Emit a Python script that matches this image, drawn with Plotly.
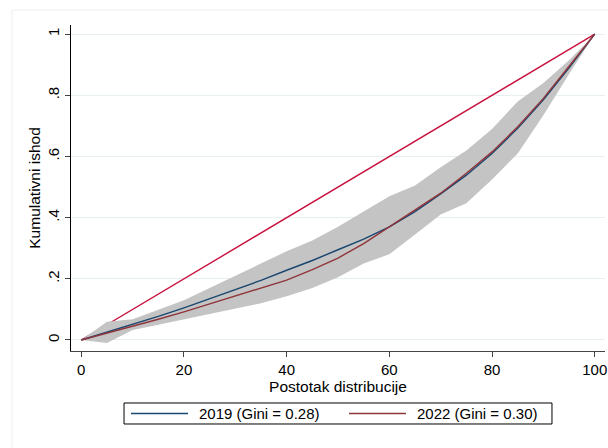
import plotly.graph_objects as go

# Population share (x) in percent
pct = [0, 5, 10, 15, 20, 25, 30, 35, 40, 45, 50, 55, 60, 65, 70, 75, 80, 85, 90, 95, 100]

# Lorenz curves
lorenz_2019 = [0, 0.025, 0.05, 0.077, 0.105, 0.135, 0.165, 0.195, 0.228, 0.26, 0.295, 0.33, 0.37,
               0.42, 0.478, 0.539, 0.61, 0.692, 0.785, 0.89, 1.0]
lorenz_2022 = [0, 0.022, 0.045, 0.068, 0.092, 0.118, 0.143, 0.168, 0.196, 0.23, 0.268, 0.315, 0.37,
               0.425, 0.48, 0.545, 0.615, 0.697, 0.79, 0.895, 1.0]

# Confidence band
band_upper = [0, 0.06, 0.068, 0.10, 0.13, 0.17, 0.21, 0.25, 0.29, 0.325, 0.37, 0.42, 0.47,
              0.505, 0.565, 0.62, 0.69, 0.78, 0.84, 0.915, 1.0]
band_lower = [0, -0.01, 0.033, 0.05, 0.068, 0.085, 0.102, 0.12, 0.143, 0.17, 0.205, 0.25, 0.28,
              0.345, 0.41, 0.447, 0.525, 0.61, 0.735, 0.87, 1.0]

# Line of equality
equality_x = [0, 100]
equality_y = [0, 1]

x_ticks = [0, 20, 40, 60, 80, 100]
y_ticks = [0, 0.2, 0.4, 0.6, 0.8, 1]
y_ticklabels = ["0", ".2", ".4", ".6", ".8", "1"]

series_names = ["2019 (Gini = 0.28)", "2022 (Gini = 0.30)"]
series_colors = ["#1a476f", "#90353b"]

FONT = "Liberation Sans, Arial, sans-serif"

fig = go.Figure()

fig.add_trace(go.Scatter(x=equality_x, y=equality_y, mode="lines",
                         line=dict(color="#c8103e", width=1.4), showlegend=False,
                         hoverinfo="skip"))
fig.add_trace(go.Scatter(x=pct + pct[::-1], y=band_upper + band_lower[::-1], mode="lines",
                         fill="toself", fillcolor="#c4c4c4", line=dict(width=0),
                         showlegend=False, hoverinfo="skip"))
for vals, name, col in zip([lorenz_2019, lorenz_2022], series_names, series_colors):
    fig.add_trace(go.Scatter(x=pct, y=vals, mode="lines", name=name,
                             line=dict(color=col, width=1.4), showlegend=False))

# faint outer graph-region frame
fig.add_shape(type="rect", xref="paper", yref="paper", x0=-0.1105, x1=1.2, y0=-0.5, y1=1.046,
              line=dict(color="#eeeeee", width=1), fillcolor="rgba(0,0,0,0)", layer="below")

# legend box (drawn below the plot, like Stata's)
fig.add_shape(type="rect", xref="paper", yref="paper", x0=0.0993, x1=0.9007,
              y0=-0.2239, y1=-0.1595, line=dict(color="black", width=1), fillcolor="white")
leg_line_x = [(0.1124, 0.2191), (0.5206, 0.6273)]
leg_text_x = [0.2360, 0.6442]
for (lx0, lx1), tx, name, col in zip(leg_line_x, leg_text_x, series_names, series_colors):
    fig.add_shape(type="line", xref="paper", yref="paper", x0=lx0, x1=lx1,
                  y0=-0.1917, y1=-0.1917, line=dict(color=col, width=1.4))
    fig.add_annotation(xref="paper", yref="paper", x=tx, y=-0.1917, text=name,
                       showarrow=False, xanchor="left", yanchor="middle",
                       font=dict(size=15, color="black"))

fig.update_layout(
    width=608, height=448,
    margin=dict(l=71, r=3, t=25, b=97),
    paper_bgcolor="white", plot_bgcolor="white",
    font=dict(family=FONT, size=15, color="black"),
    showlegend=False,
    hovermode=False,
    xaxis=dict(range=[-2, 102], tickmode="array", tickvals=x_ticks, automargin=False,
               showgrid=False, zeroline=False, showline=True, linecolor="#444444", linewidth=1,
               ticks="outside", ticklen=5, tickcolor="#444444",
               title=dict(text="Postotak distribucije", standoff=0, font=dict(size=15.5)),
               tickfont=dict(size=15)),
    yaxis=dict(range=[-0.036, 1.03], tickmode="array", tickvals=y_ticks, ticktext=y_ticklabels,
               tickangle=-90, automargin=False, showgrid=True, gridcolor="#e8eff1", gridwidth=1,
               zeroline=False, showline=True, linecolor="black", linewidth=1,
               ticks="outside", ticklen=5, tickcolor="#444444",
               title=dict(text="Kumulativni ishod", standoff=0, font=dict(size=15.5)),
               tickfont=dict(size=15)),
)

fig.write_html("out.html", config={"displayModeBar": False},
               post_script="document.body.style.margin='0';document.body.style.overflow='hidden';")
